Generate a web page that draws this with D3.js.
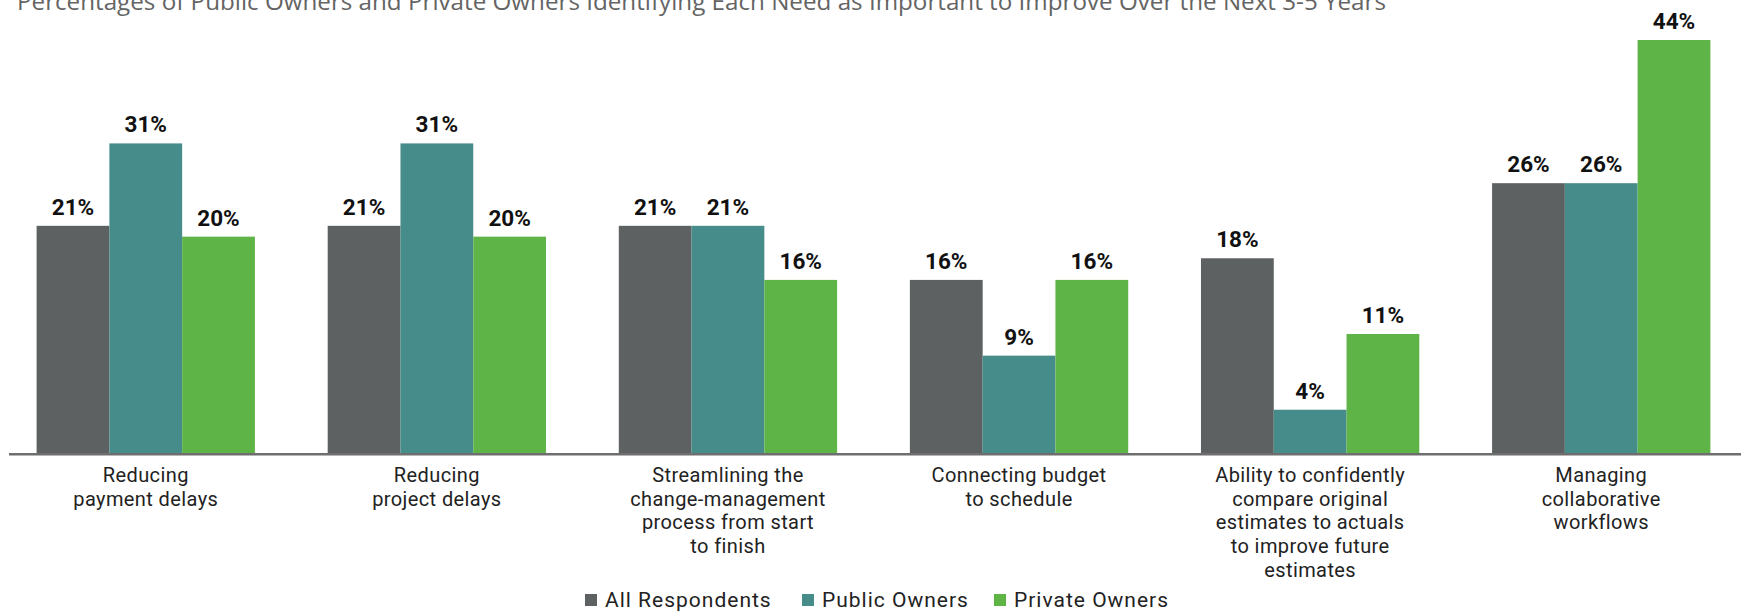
<!DOCTYPE html>
<html>
<head>
<meta charset="utf-8">
<title>Needs to Improve Over the Next 3-5 Years</title>
<style>
  body { margin: 0; background: #fff; }
  svg { display: block; }
  .title { font-family: "Open Sans", sans-serif; fill: #646464; }
  .value { font-family: Roboto, sans-serif; font-weight: 700; fill: #111; }
  .cat { font-family: Roboto, sans-serif; fill: #222; }
  .legend text { font-family: Roboto, sans-serif; fill: #222; }
</style>
</head>
<body>
<svg id="chart"></svg>
<script src="https://d3js.org/d3.v7.min.js"></script>
<script>
// data
const categories = [
  "Reducing payment delays",
  "Reducing project delays",
  "Streamlining the change-management process",
  "Connecting budget to schedule",
  "Compare original estimates to actuals",
  "Managing collaborative workflows"
];
const categoryLines = [
  ["Reducing", "payment delays"],
  ["Reducing", "project delays"],
  ["Streamlining the", "change-management", "process from start", "to finish"],
  ["Connecting budget", "to schedule"],
  ["Ability to confidently", "compare original", "estimates to actuals", "to improve future", "estimates"],
  ["Managing", "collaborative", "workflows"]
];
const series = ["All Respondents", "Public Owners", "Private Owners"];
const allRespondents = [21, 21, 21, 16, 18, 26];
const publicOwners   = [31, 31, 21, 9, 4, 26];
const privateOwners  = [20, 20, 16, 16, 11, 44];
const colors = ["#5d6162", "#468c8a", "#5fb447"];

const width = 1741, height = 612;
const baseline = 453;

const svg = d3.select("#chart").attr("width", width).attr("height", height);

// title (top of it is cut off in the original)
svg.append("text")
  .attr("class", "title")
  .attr("x", 17).attr("y", 9.5)
  .attr("font-size", 23)
  .attr("textLength", 1369)
  .attr("lengthAdjust", "spacingAndGlyphs")
  .text("Percentages of Public Owners and Private Owners Identifying Each Need as Important to Improve Over the Next 3-5 Years");

const x0 = d3.scaleBand().domain(categories).range([36.6, 1710.4]).paddingInner(0.25).paddingOuter(0);
const x1 = d3.scaleBand().domain(series).range([0, x0.bandwidth()]);
// the original's bars get shorter per point above ~22%, so the scale bends there
const y = d3.scaleLinear().domain([0, 22, 44]).range([baseline, 215, 40]);

const rows = categories.map((c, i) => ({
  cat: c,
  vals: [allRespondents[i], publicOwners[i], privateOwners[i]]
}));

const groups = svg.append("g").selectAll("g")
  .data(rows)
  .join("g")
  .attr("transform", d => `translate(${x0(d.cat)},0)`);

groups.selectAll("rect")
  .data(d => d.vals.map((v, j) => ({ key: series[j], v, j })))
  .join("rect")
  .attr("x", d => x1(d.key))
  .attr("y", d => y(d.v))
  .attr("width", x1.bandwidth())
  .attr("height", d => baseline - y(d.v))
  .attr("fill", d => colors[d.j]);

groups.selectAll("text.value")
  .data(d => d.vals.map((v, j) => ({ key: series[j], v, j })))
  .join("text")
  .attr("class", "value")
  .attr("x", d => x1(d.key) + x1.bandwidth() / 2)
  .attr("y", d => y(d.v) - 11)
  .attr("text-anchor", "middle")
  .attr("font-size", 22.5)
  .text(d => d.v + "%");

// baseline
svg.append("line")
  .attr("x1", 9).attr("x2", width)
  .attr("y1", baseline + 1.2).attr("y2", baseline + 1.2)
  .attr("stroke", "#6e6e6e").attr("stroke-width", 2.5);

// category labels
const cat = svg.append("g").selectAll("text")
  .data(categories)
  .join("text")
  .attr("class", "cat")
  .attr("font-size", 20)
  .attr("letter-spacing", 0.4)
  .attr("text-anchor", "middle")
  .attr("transform", d => `translate(${x0(d) + x0.bandwidth() / 2},482)`);

cat.selectAll("tspan")
  .data((d, i) => categoryLines[i])
  .join("tspan")
  .attr("x", 0)
  .attr("y", (d, i) => i * 23.7)
  .text(d => d);

// legend
const legendX = [585, 802, 994];
const legend = svg.append("g").attr("class", "legend")
  .selectAll("g")
  .data(series)
  .join("g")
  .attr("transform", (d, i) => `translate(${legendX[i]},0)`);

legend.append("rect")
  .attr("x", 0).attr("y", 594)
  .attr("width", 12).attr("height", 12)
  .attr("fill", (d, i) => colors[i]);

legend.append("text")
  .attr("x", 20).attr("y", 607)
  .attr("font-size", 21)
  .attr("letter-spacing", 1)
  .text(d => d);
</script>
</body>
</html>
